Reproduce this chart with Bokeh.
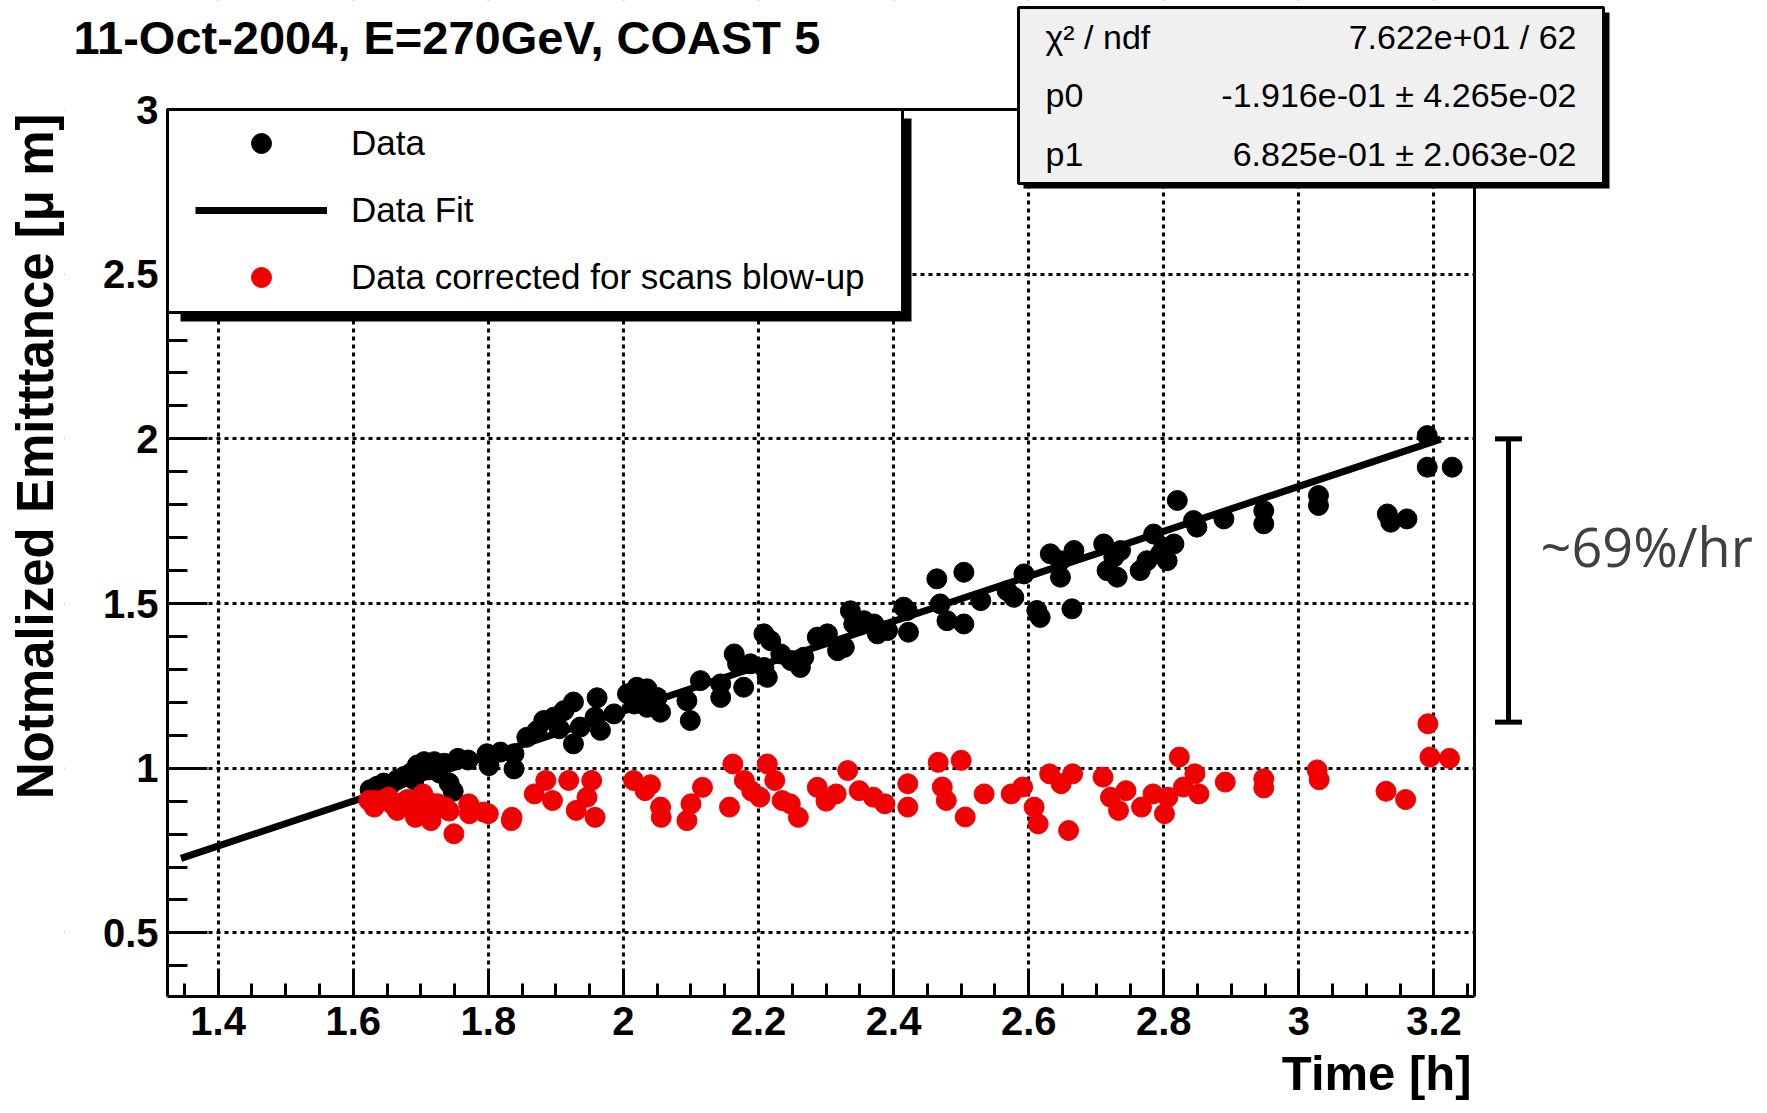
import math
from bokeh.plotting import figure
from bokeh.models import (Range1d, SingleIntervalTicker, CustomJSTickFormatter, Label, Legend,
                          LegendItem, BoxAnnotation, Whisker, ColumnDataSource, TeeHead, Title)
from bokeh.embed import file_html
from bokeh.resources import INLINE

# ---------------- data ----------------
black_x = [1.625, 1.635, 1.645, 1.655, 1.665, 1.675, 1.685, 1.690, 1.695, 1.705,
           1.712, 1.720, 1.728, 1.735, 1.742, 1.748, 1.755, 1.770, 1.798, 1.801,
           1.818, 1.838, 1.838, 1.857, 1.872, 1.882, 1.897, 1.905, 1.912, 1.926,
           1.926, 1.936, 1.958, 1.961, 1.966, 1.986, 2.006, 2.016, 2.020, 2.035,
           2.035, 2.050, 2.055, 2.094, 2.099, 2.114, 2.144, 2.144, 2.164, 2.169,
           2.178, 2.188, 2.208, 2.208, 2.213, 2.218, 2.233, 2.248, 2.262, 2.267,
           2.287, 2.302, 2.317, 2.327, 2.336, 2.341, 2.356, 2.371, 2.376, 2.391,
           2.415, 2.420, 2.422, 2.464, 2.469, 2.479, 2.504, 2.504, 2.529, 2.568,
           2.578, 2.593, 2.612, 2.617, 2.632, 2.647, 2.647, 2.664, 2.667, 2.711,
           2.716, 2.726, 2.731, 2.736, 2.765, 2.775, 2.785, 2.795, 2.800, 2.805,
           2.815, 2.820, 2.844, 2.849, 2.889, 2.948, 2.948, 3.029, 3.029, 3.131,
           3.136, 3.160, 3.190, 3.190, 3.227]
black_y = [0.935, 0.945, 0.955, 0.950, 0.965, 0.975, 0.985, 0.965, 1.010, 1.020,
           0.995, 1.020, 0.985, 1.015, 0.955, 0.930, 1.030, 1.025, 1.044, 1.008,
           1.049, 1.044, 0.998, 1.094, 1.114, 1.145, 1.155, 1.120, 1.175, 1.201,
           1.074, 1.125, 1.155, 1.214, 1.115, 1.165, 1.226, 1.195, 1.246, 1.241,
           1.185, 1.215, 1.170, 1.205, 1.145, 1.266, 1.256, 1.215, 1.347, 1.317,
           1.246, 1.317, 1.306, 1.408, 1.276, 1.387, 1.347, 1.327, 1.306, 1.337,
           1.398, 1.408, 1.357, 1.367, 1.478, 1.438, 1.448, 1.438, 1.408, 1.418,
           1.489, 1.479, 1.413, 1.575, 1.499, 1.448, 1.595, 1.438, 1.509, 1.539,
           1.519, 1.590, 1.479, 1.458, 1.651, 1.630, 1.580, 1.484, 1.661, 1.681,
           1.600, 1.641, 1.580, 1.661, 1.600, 1.630, 1.711, 1.651, 1.671, 1.630,
           1.681, 1.813, 1.752, 1.732, 1.757, 1.782, 1.742, 1.828, 1.798, 1.772,
           1.747, 1.757, 2.010, 1.914, 1.914]

red_x = [1.623, 1.630, 1.631, 1.640, 1.652, 1.657, 1.665, 1.674, 1.680, 1.691,
         1.692, 1.699, 1.703, 1.708, 1.715, 1.716, 1.720, 1.725, 1.737, 1.742,
         1.749, 1.771, 1.772, 1.793, 1.800, 1.834, 1.835, 1.868, 1.885, 1.895,
         1.919, 1.930, 1.946, 1.953, 1.958, 2.015, 2.032, 2.040, 2.055, 2.056,
         2.094, 2.100, 2.117, 2.157, 2.162, 2.179, 2.190, 2.202, 2.213, 2.224,
         2.235, 2.247, 2.259, 2.287, 2.300, 2.315, 2.332, 2.349, 2.370, 2.387,
         2.421, 2.421, 2.466, 2.472, 2.478, 2.500, 2.506, 2.534, 2.574, 2.591,
         2.608, 2.614, 2.631, 2.648, 2.659, 2.665, 2.710, 2.721, 2.733, 2.744,
         2.767, 2.784, 2.801, 2.806, 2.823, 2.829, 2.846, 2.852, 2.891, 2.948,
         2.948, 3.027, 3.030, 3.129, 3.158, 3.191, 3.194, 3.223]
red_y = [0.902, 0.902, 0.882, 0.902, 0.912, 0.892, 0.872, 0.897, 0.905, 0.902,
         0.851, 0.877, 0.922, 0.902, 0.841, 0.862, 0.892, 0.892, 0.882, 0.870,
         0.801, 0.892, 0.862, 0.867, 0.862, 0.841, 0.851, 0.922, 0.963, 0.902,
         0.963, 0.872, 0.912, 0.963, 0.851, 0.963, 0.932, 0.950, 0.882, 0.851,
         0.841, 0.892, 0.942, 0.882, 1.013, 0.963, 0.930, 0.912, 1.013, 0.963,
         0.902, 0.892, 0.851, 0.942, 0.900, 0.922, 0.993, 0.932, 0.912, 0.892,
         0.953, 0.882, 1.018, 0.943, 0.902, 1.024, 0.852, 0.922, 0.922, 0.943,
         0.882, 0.831, 0.983, 0.953, 0.811, 0.983, 0.973, 0.912, 0.872, 0.932,
         0.882, 0.922, 0.862, 0.912, 1.034, 0.943, 0.983, 0.922, 0.958, 0.968,
         0.940, 0.995, 0.965, 0.930, 0.905, 1.135, 1.034, 1.030]

fit_p0 = -0.1916
fit_p1 = 0.6825
fit_x = [1.345, 3.21]          # range over which the fit line is drawn

bar_lower = [1.14]             # "~69%/hr" bar, emittance values
bar_upper = [2.0]

axis_x_limits = [1.325, 3.26]  # plotted time range
axis_y_limits = [0.307, 3.0]   # plotted emittance range

title_text = "11-Oct-2004, E=270GeV, COAST 5"
x_title = "Time [h]"
y_title = "Notmalized Emitttance [\u03bc m]"
legend_labels = ["Data", "Data Fit", "Data corrected for scans blow-up"]
stats_names = ["\u03c7\u00b2 / ndf", "p0", "p1"]
stats_values = ["7.622e+01 / 62", "-1.916e-01 \u00b1 4.265e-02", "6.825e-01 \u00b1 2.063e-02"]
rate_text = "~69%/hr"

# ---------------- layout geometry (pixels) ----------------
W, H = 1767, 1113
FL, FR, FT, FB = 167, 1474, 109, 996      # visible plot frame (ROOT frame)
BL = 64                                   # left edge of Bokeh's drawing frame
XMIN, XMAX = axis_x_limits
YMIN, YMAX = axis_y_limits


def dx(px):
    return XMIN + (px - FL) * (XMAX - XMIN) / (FR - FL)


def dy(py):
    return YMIN + (FB - py) * (YMAX - YMIN) / (FB - FT)


FONT = "Liberation Sans"

# Bokeh frame extends beyond the ROOT frame so that the stats box, title and
# annotation can be drawn; the axes are bounded to the ROOT frame.
p = figure(width=W, height=H, x_range=Range1d(dx(BL), dx(W)), y_range=Range1d(YMIN, dy(0)),
           output_backend="svg", toolbar_location=None, title=None,
           min_border_left=BL, min_border_right=0, min_border_top=0,
           min_border_bottom=H - FB)
p.outline_line_color = None
p.background_fill_color = "white"
p.border_fill_color = "white"

fmt = CustomJSTickFormatter(code="return Number(tick.toFixed(2)).toString();")
p.xaxis.ticker = SingleIntervalTicker(interval=0.2, num_minor_ticks=4)
p.yaxis.ticker = SingleIntervalTicker(interval=0.5, num_minor_ticks=5)
p.xaxis.bounds = (XMIN, XMAX)
p.yaxis.bounds = (YMIN, YMAX)
p.yaxis.fixed_location = XMIN
for ax in (p.xaxis[0], p.yaxis[0]):
    ax.formatter = fmt
    ax.axis_line_width = 3
    ax.axis_line_color = "black"
    ax.major_tick_line_width = 3
    ax.minor_tick_line_width = 3
    ax.major_tick_line_color = "black"
    ax.minor_tick_line_color = "black"
    ax.major_tick_out = 0
    ax.minor_tick_out = 0
    ax.major_label_text_font = FONT
    ax.major_label_text_font_style = "bold"
    ax.major_label_text_font_size = "40px"
    ax.major_label_text_color = "black"
p.xaxis.major_tick_in = 27
p.xaxis.minor_tick_in = 13
p.yaxis.major_tick_in = 40
p.yaxis.minor_tick_in = 20
p.xaxis.major_label_standoff = 10
p.yaxis.major_label_standoff = 9

p.grid.grid_line_color = "black"
p.grid.grid_line_dash = "4 4"
p.grid.grid_line_width = 3

# axis titles in side panels
p.add_layout(Title(text=y_title, align="right", offset=113, vertical_align="middle", standoff=0,
                   text_font=FONT, text_font_style="bold", text_font_size="51px",
                   text_color="black"), "left")
p.add_layout(Title(text=x_title, align="right", offset=W - 1471, vertical_align="top", standoff=16,
                   text_font=FONT, text_font_style="bold", text_font_size="49px",
                   text_color="black"), "below")

# white cover outside the visible frame (hides grid lines there)
p.add_layout(BoxAnnotation(left=XMAX, right=dx(W + 5), bottom=dy(H), top=dy(-5),
                           fill_color="white", fill_alpha=1, line_alpha=0, level="glyph"))
p.add_layout(BoxAnnotation(left=dx(0), right=dx(W + 5), bottom=YMAX, top=dy(-5),
                           fill_color="white", fill_alpha=1, line_alpha=0, level="glyph"))
p.add_layout(BoxAnnotation(left=dx(0), right=XMIN, bottom=dy(H), top=dy(-5),
                           fill_color="white", fill_alpha=1, line_alpha=0, level="glyph"))
# visible frame
p.add_layout(BoxAnnotation(left=XMIN, right=XMAX, bottom=YMIN, top=YMAX,
                           fill_alpha=0, line_color="black", line_alpha=1, line_width=3,
                           level="guide"))

# data
r_black = p.scatter(black_x, black_y, size=20, marker="circle", fill_color="black", line_color="black")
fit_y = [fit_p0 + fit_p1 * x for x in fit_x]
r_fit = p.line(fit_x, fit_y, line_width=7, line_color="black")
r_red = p.scatter(red_x, red_y, size=20, marker="circle", fill_color="#f00000", line_color="#f00000")

# legend box with shadow
p.add_layout(BoxAnnotation(left=dx(180), right=dx(911), top=dy(118), bottom=dy(321),
                           fill_color="black", fill_alpha=1, line_alpha=0, level="guide"))
p.add_layout(BoxAnnotation(left=XMIN, right=dx(902), top=YMAX, bottom=dy(312),
                           fill_color="white", fill_alpha=1, line_color="black", line_alpha=1,
                           line_width=3, level="annotation"))
legend = Legend(items=[LegendItem(label=legend_labels[0], renderers=[r_black]),
                       LegendItem(label=legend_labels[1], renderers=[r_fit]),
                       LegendItem(label=legend_labels[2], renderers=[r_red])],
                location=(FL - BL + 28, FB - (FT + 9 + 184)), orientation="vertical",
                glyph_width=132, glyph_height=50, label_height=50, spacing=17,
                padding=0, margin=0, label_standoff=24,
                label_text_font=FONT, label_text_font_size="35px", label_text_color="black",
                background_fill_alpha=0, border_line_alpha=0, level="overlay")
p.add_layout(legend)

# stats box with shadow
p.add_layout(BoxAnnotation(left=dx(1023), right=dx(1609), top=dy(12), bottom=dy(188),
                           fill_color="black", fill_alpha=1, line_alpha=0, level="guide"))
p.add_layout(BoxAnnotation(left=dx(1018), right=dx(1603), top=dy(7), bottom=dy(183),
                           fill_color="#f0f0f0", fill_alpha=1, line_color="black", line_alpha=1,
                           line_width=3, level="annotation"))
for i, (nm, val) in enumerate(zip(stats_names, stats_values)):
    yy = dy(36 + 58.5 * i)
    p.add_layout(Label(x=dx(1045), y=yy, text=nm, text_align="left", text_baseline="middle",
                       text_font=FONT, text_font_size="34px", text_color="black", level="overlay"))
    p.add_layout(Label(x=dx(1576), y=yy, text=val, text_align="right", text_baseline="middle",
                       text_font=FONT, text_font_size="34px", text_color="black", level="overlay"))

# main title
p.add_layout(Label(x=dx(73), y=dy(37), text=title_text, text_align="left", text_baseline="middle",
                   text_font=FONT, text_font_style="bold", text_font_size="47px",
                   text_color="black", level="overlay"))

# growth-rate bar and text
wsrc = ColumnDataSource(dict(base=[dx(1508)], lower=bar_lower, upper=bar_upper))
p.add_layout(Whisker(source=wsrc, base="base", lower="lower", upper="upper", dimension="height",
                     line_width=5, line_color="black",
                     upper_head=TeeHead(size=27, line_width=5, line_color="black"),
                     lower_head=TeeHead(size=27, line_width=5, line_color="black"),
                     level="overlay"))
p.add_layout(Label(x=dx(1540), y=dy(545), text=rate_text, text_align="left", text_baseline="middle",
                   text_font="Open Sans", text_font_size="54px", text_color="#404040",
                   level="overlay"))

open("out.html", "w").write(file_html(p, INLINE))
